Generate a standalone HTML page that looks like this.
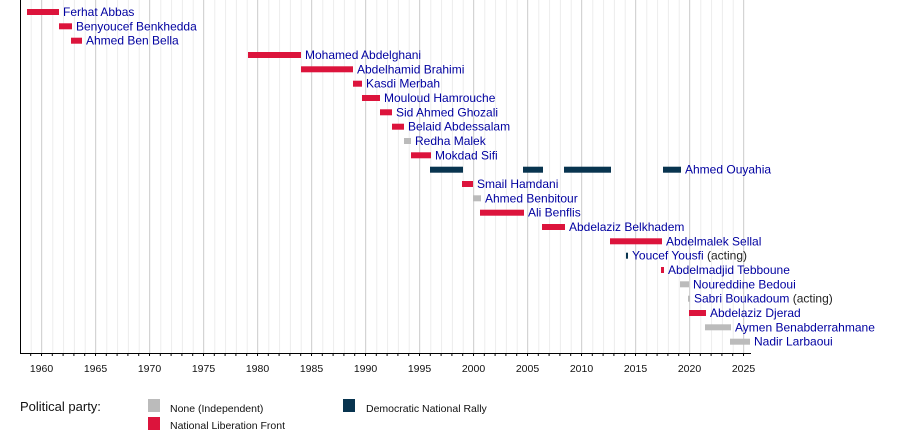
<!DOCTYPE html>
<html><head><meta charset="utf-8"><style>
html,body{margin:0;padding:0;background:#fff;}
svg{display:block;font-family:"Liberation Sans",sans-serif;}
.l{fill:#0000a0;font-size:12px;}
.t{font-size:10.5px;fill:#111;text-anchor:middle;}
.r{fill:#dc143c}.g{fill:#bbbbbb}.d{fill:#08344f}
</style></head><body>
<svg width="900" height="433" viewBox="0 0 900 433">
<defs>
<pattern id="mn" x="41.5" y="0" width="10.8" height="400" patternUnits="userSpaceOnUse"><rect x="0" y="0" width="1" height="400" fill="#ececec"/></pattern>
<pattern id="mj" x="41" y="0" width="54" height="400" patternUnits="userSpaceOnUse"><rect x="0" y="0" width="1" height="400" fill="#d4d4d4"/></pattern>
<pattern id="tk" x="41" y="0" width="10.8" height="400" patternUnits="userSpaceOnUse"><rect x="0" y="0" width="1" height="400" fill="#000"/></pattern>
</defs>
<rect x="21" y="0" width="730" height="353" fill="url(#mn)"/>
<rect x="21" y="0" width="730" height="353" fill="url(#mj)"/>
<rect x="21" y="353" width="731" height="3" fill="url(#tk)"/>
<rect x="20" y="0" width="1" height="354" fill="#000"/>
<rect x="20" y="353" width="731" height="1" fill="#000"/>
<g class="t">
<text x="41.5" y="372">1960</text><text x="95.5" y="372">1965</text><text x="149.5" y="372">1970</text><text x="203.5" y="372">1975</text><text x="257.5" y="372">1980</text><text x="311.5" y="372">1985</text><text x="365.5" y="372">1990</text><text x="419.5" y="372">1995</text><text x="473.5" y="372">2000</text><text x="527.5" y="372">2005</text><text x="581.5" y="372">2010</text><text x="635.5" y="372">2015</text><text x="689.5" y="372">2020</text><text x="743.5" y="372">2025</text>
</g>
<rect class="r" x="27" y="9" width="32" height="6"/><text class="l" x="63" y="16">Ferhat Abbas</text>
<rect class="r" x="59" y="23.3" width="13" height="6"/><text class="l" x="76" y="30.3">Benyoucef Benkhedda</text>
<rect class="r" x="71" y="37.7" width="11" height="6"/><text class="l" x="86" y="44.7">Ahmed Ben Bella</text>
<rect class="r" x="248" y="52" width="53" height="6"/><text class="l" x="305" y="59">Mohamed Abdelghani</text>
<rect class="r" x="301" y="66.3" width="52" height="6"/><text class="l" x="357" y="73.3">Abdelhamid Brahimi</text>
<rect class="r" x="353" y="80.7" width="9" height="6"/><text class="l" x="366" y="87.7">Kasdi Merbah</text>
<rect class="r" x="362" y="95" width="18" height="6"/><text class="l" x="384" y="102">Mouloud Hamrouche</text>
<rect class="r" x="380" y="109.3" width="12" height="6"/><text class="l" x="396" y="116.3">Sid Ahmed Ghozali</text>
<rect class="r" x="392" y="123.7" width="12" height="6"/><text class="l" x="408" y="130.7">Belaid Abdessalam</text>
<rect class="g" x="404" y="138" width="7" height="6"/><text class="l" x="415" y="145">Redha Malek</text>
<rect class="r" x="411" y="152.3" width="20" height="6"/><text class="l" x="435" y="159.3">Mokdad Sifi</text>
<rect class="d" x="430" y="166.7" width="33" height="6"/><rect class="d" x="523" y="166.7" width="20" height="6"/><rect class="d" x="564" y="166.7" width="47" height="6"/><rect class="d" x="663" y="166.7" width="18" height="6"/><text class="l" x="685" y="173.7">Ahmed Ouyahia</text>
<rect class="r" x="462" y="181" width="11" height="6"/><text class="l" x="477" y="188">Smail Hamdani</text>
<rect class="g" x="473" y="195.3" width="8" height="6"/><text class="l" x="485" y="202.3">Ahmed Benbitour</text>
<rect class="r" x="480" y="209.7" width="44" height="6"/><text class="l" x="528" y="216.7">Ali Benflis</text>
<rect class="r" x="542" y="224" width="23" height="6"/><text class="l" x="569" y="231">Abdelaziz Belkhadem</text>
<rect class="r" x="610" y="238.3" width="52" height="6"/><text class="l" x="666" y="245.3">Abdelmalek Sellal</text>
<rect class="d" x="626" y="252.7" width="2" height="6"/><text class="l" x="632" y="259.7">Youcef Yousfi <tspan fill="#222">(acting)</tspan></text>
<rect class="r" x="661" y="267" width="3" height="6"/><text class="l" x="668" y="274">Abdelmadjid Tebboune</text>
<rect class="g" x="680" y="281.3" width="9" height="6"/><text class="l" x="693" y="288.3">Noureddine Bedoui</text>
<rect class="g" x="688" y="295.7" width="2" height="6"/><text class="l" x="694" y="302.7">Sabri Boukadoum <tspan fill="#222">(acting)</tspan></text>
<rect class="r" x="689" y="310" width="17" height="6"/><text class="l" x="710" y="317">Abdelaziz Djerad</text>
<rect class="g" x="705" y="324.3" width="26" height="6"/><text class="l" x="735" y="331.3">Aymen Benabderrahmane</text>
<rect class="g" x="730" y="338.7" width="20" height="6"/><text class="l" x="754" y="345.7">Nadir Larbaoui</text>
<text x="20" y="411" font-size="13" fill="#111">Political party:</text>
<rect class="g" x="148" y="399" width="12" height="13"/><text x="170" y="412" font-size="10.5" fill="#111">None (Independent)</text>
<rect class="r" x="148" y="417" width="12" height="13"/><text x="170" y="429" font-size="10.5" fill="#111">National Liberation Front</text>
<rect class="d" x="343" y="399" width="12" height="13"/><text x="366" y="412" font-size="10.5" fill="#111">Democratic National Rally</text>
</svg>
</body></html>
